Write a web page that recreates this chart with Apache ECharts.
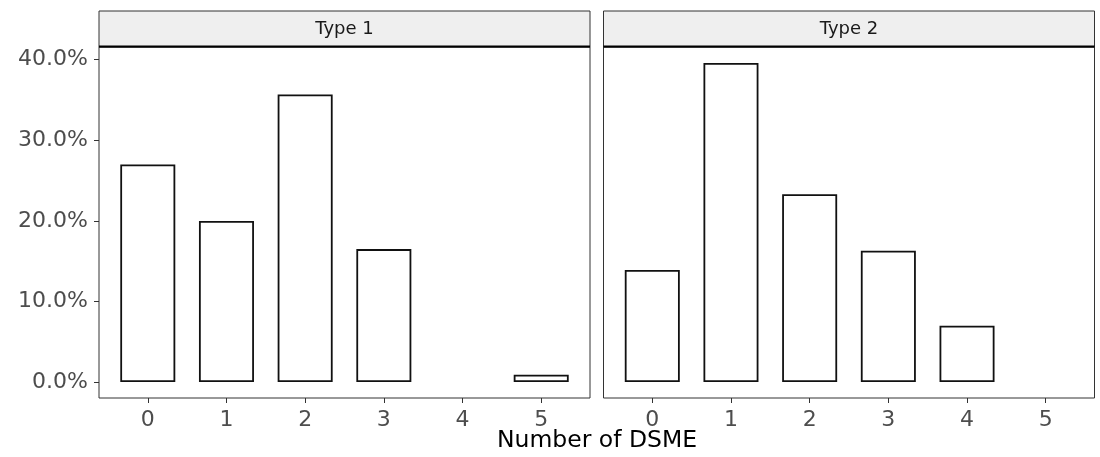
<!DOCTYPE html>
<html><head><meta charset="utf-8">
<script src="https://cdn.jsdelivr.net/npm/echarts@6/dist/echarts.min.js"></script>
<style>html,body{margin:0;padding:0;background:#fff}#c{width:1100px;height:457px}</style>
</head><body><div id="c"></div>
<script>
const categories = [0, 1, 2, 3, 4, 5];
const panelLabels = ['Type 1', 'Type 2'];
const type1Values = [27.0, 20.0, 35.7, 16.5, null, 0.9];
const type2Values = [13.9, 39.6, 23.3, 16.3, 7.0, null];
const yTicks = [0, 10, 20, 30, 40];
const xTitle = 'Number of DSME';

const FONT = 'DejaVu Sans';
const panels = [
  { left: 99, width: 491, values: type1Values, label: panelLabels[0], showY: true },
  { left: 603.5, width: 491, values: type2Values, label: panelLabels[1], showY: false }
];
const TOP = 47, HEIGHT = 351, STRIP_TOP = 11;

const grids = [], xAxes = [], yAxes = [], series = [], graphics = [];
panels.forEach((p, i) => {
  grids.push({ left: p.left, top: TOP, width: p.width, height: HEIGHT, show: true,
    borderColor: '#333', borderWidth: 1, backgroundColor: '#fff', containLabel: false });
  xAxes.push({ type: 'value', gridIndex: i, min: -0.62, max: 5.62, position: 'bottom',
    splitLine: { show: false }, axisLine: { show: false, onZero: false },
    axisTick: { show: true, inside: false, length: 5, lineStyle: { color: '#333', width: 1 }, customValues: categories },
    axisLabel: { show: true, customValues: categories, color: '#4d4d4d', fontFamily: FONT, fontSize: 22, margin: 11,
      formatter: v => String(Math.round(v)) } });
  yAxes.push({ type: 'value', gridIndex: i, min: -1.98, max: 41.58, position: 'left',
    splitLine: { show: false }, axisLine: { show: false, onZero: false },
    axisTick: { show: p.showY, inside: false, length: 5, lineStyle: { color: '#333', width: 1 }, customValues: yTicks },
    axisLabel: { show: p.showY, customValues: yTicks, color: '#4d4d4d', fontFamily: FONT, fontSize: 22, margin: 11,
      formatter: v => v.toFixed(1) + '%' } });
  series.push({ type: 'bar', xAxisIndex: i, yAxisIndex: i, barWidth: 55,
    data: categories.map((c, k) => p.values[k] == null ? [c, '-'] : [c, p.values[k]]),
    itemStyle: { color: '#fff', borderColor: '#111', borderWidth: 1.8 },
    silent: true });
  graphics.push({ type: 'rect', shape: { x: p.left, y: STRIP_TOP, width: p.width, height: TOP - STRIP_TOP },
    style: { fill: '#efefef', stroke: '#333', lineWidth: 1 } });
  graphics.push({ type: 'line', shape: { x1: p.left, y1: TOP - 0.5, x2: p.left + p.width, y2: TOP - 0.5 },
    style: { stroke: '#000', lineWidth: 2 } });
  graphics.push({ type: 'text', x: p.left + p.width / 2, y: (STRIP_TOP + TOP) / 2,
    style: { text: p.label, fill: '#1a1a1a', font: '18px "DejaVu Sans"', textAlign: 'center', textVerticalAlign: 'middle' } });
});
graphics.push({ type: 'text', x: 597, y: 441,
  style: { text: xTitle, fill: '#000', font: '23.5px "DejaVu Sans"', textAlign: 'center', textVerticalAlign: 'middle' } });

const chart = echarts.init(document.getElementById('c'), null, { renderer: 'canvas' });
chart.setOption({
  animation: false,
  backgroundColor: '#fff',
  grid: grids, xAxis: xAxes, yAxis: yAxes, series: series,
  graphic: graphics
});
</script></body></html>
